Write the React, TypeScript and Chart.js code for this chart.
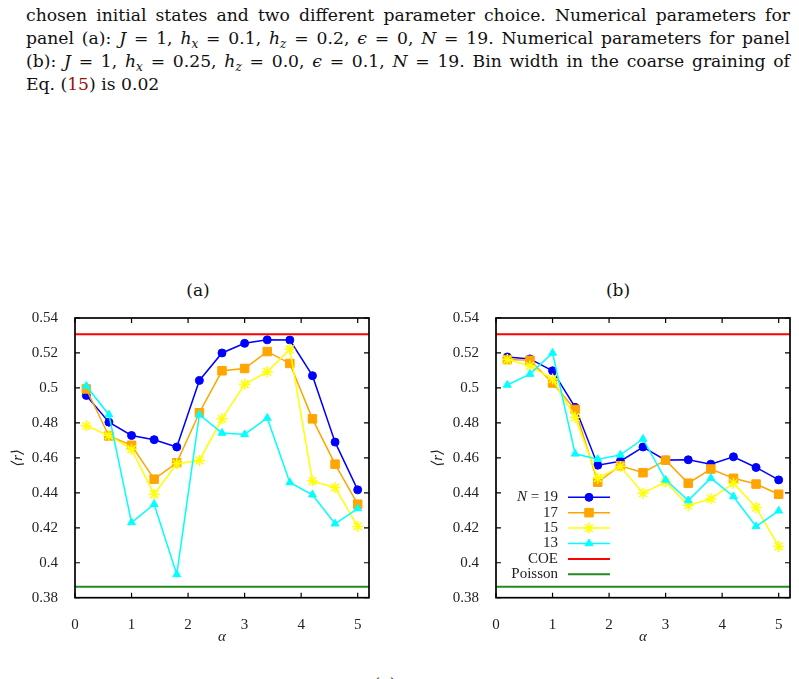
import React, { useEffect, useRef } from 'react';
import { Chart, registerables } from 'chart.js';
import { drawPoint } from 'chart.js/helpers';

Chart.register(...registerables);

// ---------- data ----------
const alpha = [0.2, 0.6, 1.0, 1.4, 1.8, 2.2, 2.6, 3.0, 3.4, 3.8, 4.2, 4.6, 5.0];

const aN19 = [0.4957, 0.4804, 0.4728, 0.4704, 0.4662, 0.5043, 0.5200, 0.5255, 0.5275, 0.5274, 0.5070, 0.4690, 0.4417];
const aN17 = [0.4994, 0.4725, 0.4672, 0.4478, 0.4572, 0.4858, 0.5098, 0.5111, 0.5208, 0.5140, 0.4823, 0.4564, 0.4335];
const aN15 = [0.4783, 0.4728, 0.4649, 0.4392, 0.4566, 0.4585, 0.4823, 0.5021, 0.5092, 0.5221, 0.4467, 0.4430, 0.4208];
const aN13 = [0.5011, 0.4847, 0.4230, 0.4335, 0.3933, 0.4847, 0.4742, 0.4734, 0.4828, 0.4459, 0.4389, 0.4223, 0.4310];

const bN19 = [0.5177, 0.5166, 0.5098, 0.4889, 0.4558, 0.4581, 0.4662, 0.4587, 0.4589, 0.4564, 0.4606, 0.4545, 0.4474];
const bN17 = [0.5162, 0.5158, 0.5028, 0.4877, 0.4461, 0.4555, 0.4515, 0.4587, 0.4455, 0.4536, 0.4483, 0.4450, 0.4392];
const bN15 = [0.5162, 0.5126, 0.5051, 0.4832, 0.4484, 0.4550, 0.4398, 0.4462, 0.4328, 0.4366, 0.4455, 0.4316, 0.4093];
const bN13 = [0.5017, 0.5079, 0.5200, 0.4623, 0.4592, 0.4617, 0.4708, 0.4474, 0.4356, 0.4484, 0.4379, 0.4208, 0.4297];

const COE = 0.5307;
const POISSON = 0.3863;

const seriesLabels = ['N = 19', '17', '15', '13', 'COE', 'Poisson'];
const xRange = [0, 5.2];
const yRange = [0.38, 0.54];
const xStep = 1;
const yStep = 0.02;

// ---------- styles ----------
const FONT = '"Liberation Serif", "DejaVu Serif", serif';
const TEXT_FONT = '"DejaVu Serif", serif';
const STYLES = [
  { color: '#0000ff', pointStyle: 'circle', radius: 4, pbw: 1 },
  { color: '#ffa500', pointStyle: 'rect', radius: 6, pbw: 1 },
  { color: '#ffff00', pointStyle: 'star', radius: 5.5, pbw: 1.5 },
  { color: '#00ffff', pointStyle: 'triangle', radius: 4.5, pbw: 1 },
];
const REF_COLORS = ['#ff0000', '#228b22'];

function makeDatasets(series: number[][]) {
  const ds: any[] = series.map((vals, i) => ({
    label: seriesLabels[i],
    data: alpha.map((a, k) => ({ x: a, y: vals[k] })),
    borderColor: STYLES[i].color,
    backgroundColor: STYLES[i].color,
    pointBackgroundColor: STYLES[i].color,
    pointBorderColor: STYLES[i].color,
    pointStyle: STYLES[i].pointStyle,
    pointRadius: STYLES[i].radius,
    pointBorderWidth: STYLES[i].pbw,
    borderWidth: 1.5,
    tension: 0,
    fill: false,
    order: 10 - i,
  }));
  [COE, POISSON].forEach((v, j) => {
    ds.push({
      label: seriesLabels[4 + j],
      data: xRange.map((x) => ({ x, y: v })),
      borderColor: REF_COLORS[j],
      backgroundColor: REF_COLORS[j],
      pointRadius: 0,
      borderWidth: 2,
      fill: false,
      order: 4 - j,
    });
  });
  return ds;
}

const frameTicks = {
  id: 'frameTicks',
  afterDatasetsDraw(chart: any) {
    const { ctx, chartArea: a, scales } = chart;
    const x = scales.x, y = scales.y;
    const L = 5;
    ctx.save();
    ctx.strokeStyle = '#000';
    ctx.lineWidth = 1.2;
    ctx.beginPath();
    x.ticks.forEach((t: any) => {
      const px = x.getPixelForValue(t.value);
      ctx.moveTo(px, a.bottom); ctx.lineTo(px, a.bottom - L);
      ctx.moveTo(px, a.top); ctx.lineTo(px, a.top + L);
    });
    y.ticks.forEach((t: any) => {
      const py = y.getPixelForValue(t.value);
      ctx.moveTo(a.left, py); ctx.lineTo(a.left + L, py);
      ctx.moveTo(a.right, py); ctx.lineTo(a.right - L, py);
    });
    ctx.stroke();
    ctx.lineWidth = 1.7;
    ctx.strokeRect(a.left, a.top, a.right - a.left, a.bottom - a.top);
    ctx.restore();
  },
};

const insideLegend = {
  id: 'insideLegend',
  afterDraw(chart: any, _args: any, opts: any) {
    if (!opts || !opts.show) return;
    const { ctx, chartArea: a } = chart;
    const textRight = a.left + opts.textOffset;
    const lineX0 = textRight + opts.gap;
    const lineX1 = lineX0 + opts.sampleWidth;
    ctx.save();
    chart.data.datasets.forEach((ds: any, i: number) => {
      const yy = a.top + opts.firstRow + i * opts.rowStep;
      ctx.fillStyle = '#222';
      ctx.textAlign = 'right';
      ctx.textBaseline = 'middle';
      const label: string = ds.label;
      if (label.startsWith('N ')) {
        ctx.font = `15px ${FONT}`;
        const rest = label.slice(1);
        ctx.fillText(rest, textRight, yy);
        const w = ctx.measureText(rest).width;
        ctx.font = `italic 15px ${FONT}`;
        ctx.fillText('N', textRight - w, yy);
      } else {
        ctx.font = `15px ${FONT}`;
        ctx.fillText(label, textRight, yy);
      }
      ctx.strokeStyle = ds.borderColor;
      ctx.lineWidth = ds.borderWidth;
      ctx.beginPath();
      ctx.moveTo(lineX0, yy);
      ctx.lineTo(lineX1, yy);
      ctx.stroke();
      if (ds.pointRadius > 0) {
        ctx.fillStyle = ds.pointBackgroundColor;
        ctx.strokeStyle = ds.pointBorderColor;
        ctx.lineWidth = ds.pointBorderWidth;
        drawPoint(ctx, { pointStyle: ds.pointStyle, radius: ds.pointRadius, borderWidth: ds.pointBorderWidth, rotation: 0 } as any, (lineX0 + lineX1) / 2, yy);
      }
    });
    ctx.restore();
  },
};

function makeConfig(series: number[][], yWidth: number, padRight: number, legend: boolean): any {
  return {
    type: 'line',
    data: { datasets: makeDatasets(series) },
    plugins: [frameTicks, insideLegend],
    options: {
      animation: false,
      responsive: false,
      devicePixelRatio: 1,
      events: [],
      layout: { padding: { top: 16.7, right: padRight, left: 0, bottom: 0 } },
      plugins: {
        legend: { display: false },
        tooltip: { enabled: false },
        insideLegend: { show: legend, textOffset: 62, gap: 10, sampleWidth: 42, firstRow: 179.3, rowStep: 15.4 },
      },
      scales: {
        x: {
          type: 'linear',
          min: xRange[0],
          max: xRange[1],
          grid: { display: false },
          border: { display: false },
          ticks: { stepSize: xStep, includeBounds: false, padding: 10, color: '#222', font: { family: FONT, size: 15 }, maxRotation: 0, autoSkip: false },
          afterBuildTicks: (s: any) => { s.ticks = s.ticks.filter((t: any) => Math.abs(t.value - Math.round(t.value)) < 1e-9); },
          title: { display: true, text: 'α', color: '#222', font: { family: FONT, size: 15, style: 'italic' }, padding: { top: 0, bottom: 14 } },
          afterFit: (s: any) => { s.height = 62.3; },
        },
        y: {
          type: 'linear',
          min: yRange[0],
          max: yRange[1],
          grid: { display: false },
          border: { display: false },
          ticks: { stepSize: yStep, padding: 9, color: '#222', font: { family: FONT, size: 15 }, callback: (v: number) => String(+v.toFixed(2)) },
          title: { display: true, text: '⟨r⟩', color: '#222', font: { family: FONT, size: 15, style: 'italic' }, padding: { top: 9, bottom: 0 } },
          afterFit: (s: any) => { s.width = yWidth; },
        },
      },
    },
  };
}

function Panel({ series, left, width, yWidth, padRight, legend }: any) {
  const ref = useRef<HTMLCanvasElement>(null);
  useEffect(() => {
    const c = new Chart(ref.current as HTMLCanvasElement, makeConfig(series, yWidth, padRight, legend));
    return () => c.destroy();
  }, []);
  return <canvas ref={ref} width={width} height={360} style={{ position: 'absolute', left, top: 300, width, height: 360 }} />;
}

const lineStyle: any = {
  position: 'absolute', left: 26, width: 764, fontFamily: TEXT_FONT, fontSize: 17.2, lineHeight: '23px',
  whiteSpace: 'nowrap', textAlign: 'justify', textAlignLast: 'justify', color: '#111',
};
const subStyle: any = { fontSize: '0.7em', verticalAlign: '-0.3em', lineHeight: 0 };

export default function App() {
  return (
    <div style={{ position: 'absolute', left: 0, top: 0, width: 799, height: 679, overflow: 'hidden', background: '#fff' }}>
      <div style={{ ...lineStyle, top: 3.5 }}>chosen initial states and two different parameter choice. Numerical parameters for</div>
      <div style={{ ...lineStyle, top: 26.5 }}>
        panel (a): <i>J</i> = 1, <i>h</i><sub style={subStyle}><i>x</i></sub> = 0.1, <i>h</i><sub style={subStyle}><i>z</i></sub> = 0.2, <i>ϵ</i> = 0, <i>N</i> = 19. Numerical parameters for panel
      </div>
      <div style={{ ...lineStyle, top: 49.5 }}>
        (b): <i>J</i> = 1, <i>h</i><sub style={subStyle}><i>x</i></sub> = 0.25, <i>h</i><sub style={subStyle}><i>z</i></sub> = 0.0, <i>ϵ</i> = 0.1, <i>N</i> = 19. Bin width in the coarse graining of
      </div>
      <div style={{ ...lineStyle, top: 72.5, textAlign: 'left', textAlignLast: 'left' }}>
        Eq. (<span style={{ color: '#9a1010' }}>15</span>) is 0.02
      </div>
      <div style={{ position: 'absolute', left: 148, top: 280, width: 100, textAlign: 'center', fontFamily: TEXT_FONT, fontSize: 17, lineHeight: '20px', color: '#111' }}>(a)</div>
      <div style={{ position: 'absolute', left: 568, top: 280, width: 100, textAlign: 'center', fontFamily: TEXT_FONT, fontSize: 17, lineHeight: '20px', color: '#111' }}>(b)</div>
      <div style={{ position: 'absolute', left: 335, top: 674, width: 100, textAlign: 'center', fontFamily: TEXT_FONT, fontSize: 17, lineHeight: '20px', color: '#111' }}>(c)</div>
      <Panel series={[aN19, aN17, aN15, aN13]} left={0} width={380} yWidth={75} padRight={11} legend={false} />
      <Panel series={[bN19, bN17, bN15, bN13]} left={420} width={379} yWidth={76} padRight={9} legend={true} />
    </div>
  );
}
